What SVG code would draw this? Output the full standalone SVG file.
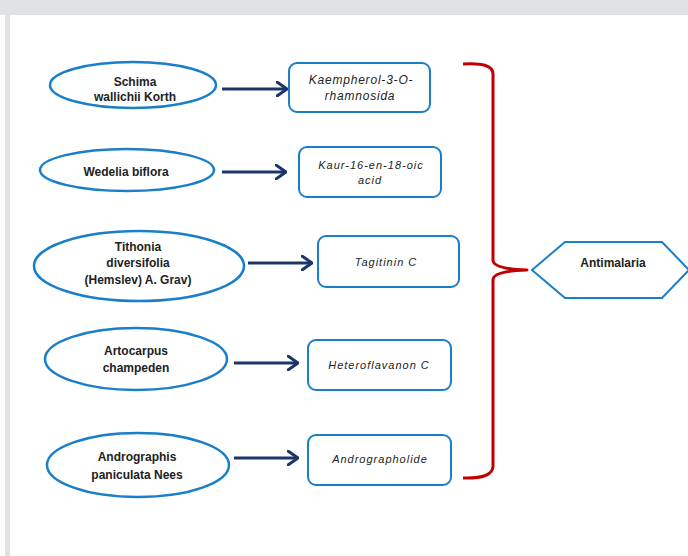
<svg xmlns="http://www.w3.org/2000/svg" width="688" height="556" viewBox="0 0 688 556">
<style>
.bg{fill:#dfe3e4}
.ell{fill:#fff;stroke:#1a7fc9;stroke-width:2.5}
.box{fill:#fff;stroke:#1a7fc9;stroke-width:2}
.hex{fill:#fff;stroke:#1a7fc9;stroke-width:2}
.lt{font-family:"Liberation Sans",Arial,sans-serif;font-size:12px;font-weight:bold;fill:#222;text-anchor:middle}
.rt{font-family:"Liberation Sans",Arial,sans-serif;font-size:11px;font-style:italic;fill:#222;text-anchor:middle;letter-spacing:1px}
.arr{fill:none;stroke:#1b366b;stroke-width:3}
.brk{fill:none;stroke:#c00000;stroke-width:3;stroke-linejoin:round}
</style>
<defs>
<marker id="head" viewBox="0 0 12 16" refX="11" refY="8" markerWidth="12" markerHeight="16" markerUnits="userSpaceOnUse" orient="auto">
<path d="M1,1 L11,8 L1,15" fill="none" stroke="#1b366b" stroke-width="3" stroke-linecap="round" stroke-linejoin="round"/>
</marker>
</defs>
<rect x="0" y="0" width="688" height="556" fill="#fff"/>
<rect class="bg" x="0" y="0" width="688" height="15"/>
<rect class="bg" x="5" y="15" width="5" height="541"/>
<g id="connectors">
<path class="arr" d="M222,89 L287,89" marker-end="url(#head)"/>
<path class="arr" d="M222,172 L286,172" marker-end="url(#head)"/>
<path class="arr" d="M248,263 L312,263" marker-end="url(#head)"/>
<path class="arr" d="M234,363 L298,363" marker-end="url(#head)"/>
<path class="arr" d="M234,458 L298,458" marker-end="url(#head)"/>
<path class="brk" d="M463,64 Q493,62 493,74 L493,260 Q493,269 527,270 Q493,271 493,280 L493,466 Q493,479 463,478"/>
</g>
<g id="n1"><ellipse class="ell" cx="133" cy="85" rx="83" ry="23"/><text class="lt" x="135" y="86">Schima</text><text class="lt" x="135" y="101">wallichii Korth</text></g>
<g id="n2"><ellipse class="ell" cx="127" cy="170" rx="87" ry="21"/><text class="lt" x="126" y="176">Wedelia biflora</text></g>
<g id="n3"><ellipse class="ell" cx="139" cy="266" rx="105" ry="35"/><text class="lt" x="138" y="251">Tithonia</text><text class="lt" x="138" y="267">diversifolia</text><text class="lt" x="138" y="284">(Hemslev) A. Grav)</text></g>
<g id="n4"><ellipse class="ell" cx="136" cy="359" rx="91" ry="31"/><text class="lt" x="136" y="355">Artocarpus</text><text class="lt" x="136" y="372">champeden</text></g>
<g id="n5"><ellipse class="ell" cx="138" cy="465" rx="91" ry="32"/><text class="lt" x="137" y="461">Andrographis</text><text class="lt" x="137" y="479">paniculata Nees</text></g>
<g id="c1"><rect class="box" x="289" y="63" width="141" height="49" rx="8"/><text class="rt" x="361" y="84" style="font-size:12px;letter-spacing:0.8px;font-weight:500">Kaempherol-3-O-</text><text class="rt" x="360" y="100" style="font-size:12px;letter-spacing:0.8px">rhamnosida</text></g>
<g id="c2"><rect class="box" x="299" y="147" width="142" height="50" rx="8"/><text class="rt" x="371" y="169">Kaur-16-en-18-oic</text><text class="rt" x="370" y="184">acid</text></g>
<g id="c3"><rect class="box" x="318" y="236" width="141" height="51" rx="8"/><text class="rt" x="386" y="266">Tagitinin C</text></g>
<g id="c4"><rect class="box" x="308" y="340" width="143" height="50" rx="8"/><text class="rt" x="379" y="369">Heteroflavanon C</text></g>
<g id="c5"><rect class="box" x="308" y="435" width="143" height="50" rx="8"/><text class="rt" x="380" y="463">Andrographolide</text></g>
<g id="antimalaria"><polygon class="hex" points="532,270 565,242 662,242 689,270 662,298 565,298"/><text class="lt" x="613" y="267">Antimalaria</text></g>
</svg>
